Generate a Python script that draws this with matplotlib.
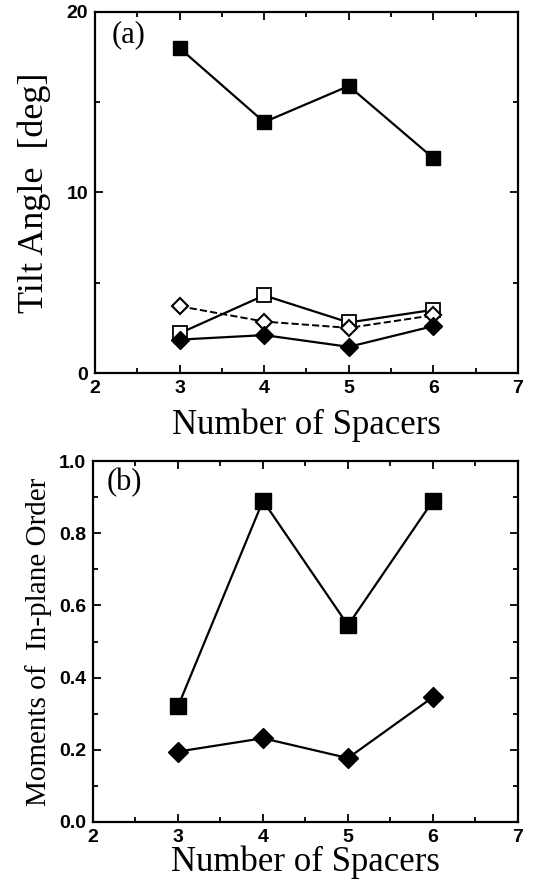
import matplotlib
matplotlib.use("Agg")
import matplotlib.pyplot as plt
from matplotlib.ticker import MultipleLocator, FormatStrFormatter

spacers = [3, 4, 5, 6]
tilt_filled_sq = [18.0, 13.9, 15.9, 11.9]
tilt_open_sq = [2.2, 4.3, 2.8, 3.5]
tilt_open_dia = [3.7, 2.85, 2.5, 3.2]
tilt_filled_dia = [1.85, 2.1, 1.45, 2.6]

order_sq = [0.32, 0.89, 0.545, 0.89]
order_dia = [0.195, 0.232, 0.177, 0.346]

serif = ["Liberation Serif", "DejaVu Serif"]
sans = ["Liberation Sans", "DejaVu Sans"]

plt.rcParams["font.family"] = sans
plt.rcParams["font.weight"] = "bold"

fig = plt.figure(figsize=(5.6, 8.81), dpi=100)
ax1 = fig.add_axes([0.1696, 0.5766, 0.7554, 0.4098])
ax2 = fig.add_axes([0.166, 0.067, 0.759, 0.4097])

for ax in (ax1, ax2):
    for s in ax.spines.values():
        s.set_linewidth(1.6)
    ax.tick_params(which="both", direction="in", top=True, right=True, width=1.3)
    ax.tick_params(which="major", length=6, pad=5, labelsize=14)
    ax.tick_params(which="minor", length=3.5)
    ax.set_xlim(2, 7)
    ax.xaxis.set_major_locator(MultipleLocator(1))
    ax.xaxis.set_minor_locator(MultipleLocator(0.5))

ax1.plot(spacers, tilt_filled_sq, "-s", color="black", lw=1.6, ms=9.5, mfc="black")
ax1.plot(spacers, tilt_open_sq, "-s", color="black", lw=1.6, ms=9.5, mfc="white", mew=1.3)
ax1.plot(spacers, tilt_open_dia, "--D", color="black", lw=1.4, ms=8.5, mfc="white", mew=1.5)
ax1.plot(spacers, tilt_filled_dia, "-D", color="black", lw=1.6, ms=9.5, mfc="black")
ax1.set_ylim(0, 20)
ax1.yaxis.set_major_locator(MultipleLocator(10))
ax1.yaxis.set_minor_locator(MultipleLocator(5))

ax2.plot(spacers, order_sq, "-s", color="black", lw=1.6, ms=11, mfc="black")
ax2.plot(spacers, order_dia, "-D", color="black", lw=1.6, ms=10, mfc="black")
ax2.set_ylim(0, 1.0)
ax2.yaxis.set_major_locator(MultipleLocator(0.2))
ax2.yaxis.set_minor_locator(MultipleLocator(0.1))
ax2.yaxis.set_major_formatter(FormatStrFormatter("%.1f"))

ax1.set_ylabel("Tilt Angle  [deg]", fontfamily=serif, fontweight="normal", fontsize=26, labelpad=11)
ax1.set_xlabel("Number of Spacers", fontfamily=serif, fontweight="normal", fontsize=25, labelpad=8)
ax2.set_ylabel("Moments of  In-plane Order", fontfamily=serif, fontweight="normal", fontsize=21, labelpad=5)
ax2.set_xlabel("Number of Spacers", fontfamily=serif, fontweight="normal", fontsize=25, labelpad=0)

ax1.text(0.04, 0.936, "(a)", transform=ax1.transAxes, fontfamily=serif, fontweight="normal", fontsize=22, va="center", ha="left")
ax2.text(0.033, 0.939, "(b)", transform=ax2.transAxes, fontfamily=serif, fontweight="normal", fontsize=22, va="center", ha="left")

fig.savefig("out.png", dpi=100)
